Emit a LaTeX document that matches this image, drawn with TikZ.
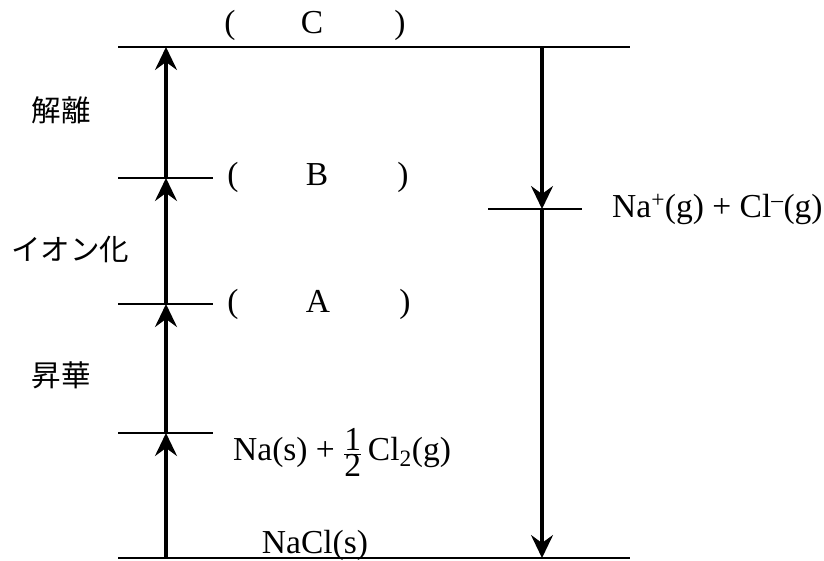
\documentclass[tikz,border=0pt]{standalone}
\usepackage{fontspec}
\setmainfont{Liberation Serif}
\newfontfamily\jpfont{Noto Sans CJK JP}
\usetikzlibrary{arrows.meta}
\tikzset{
  level/.style={line width=2.5pt},
  uparrow/.style={line width=3.2pt, -{Stealth[length=23pt,width=22pt,inset=8pt]}},
  lbl/.style={inner sep=0pt, anchor=base, font=\fontsize{33.5}{33.5}\selectfont},
  jp/.style={inner sep=0pt, font=\jpfont\fontsize{29.5}{29.5}\selectfont},
}
\begin{document}
\begin{tikzpicture}[x=1pt,y=-1pt]
\useasboundingbox (0,0) rectangle (824,560);
% level coordinates on the left axis
\coordinate (L0) at (166,558);
\coordinate (L1) at (166,433);
\coordinate (L2) at (166,304);
\coordinate (L3) at (166,178);
\coordinate (L4) at (166,47);
% right axis
\coordinate (R0) at (542,47);
\coordinate (R1) at (542,209);
\coordinate (R2) at (542,558);
% level lines
\draw[level] (118,47) -- (630,47);
\draw[level] (118,558) -- (630,558);
\draw[level] (118,178) -- (213,178);
\draw[level] (118,304) -- (213,304);
\draw[level] (118,433) -- (213,433);
\draw[level] (488,209) -- (582,209);
% arrows
\draw[uparrow] (L0) -- (L1);
\draw[uparrow] (L1) -- (L2);
\draw[uparrow] (L2) -- (L3);
\draw[uparrow] (L3) -- (L4);
\draw[uparrow] (R0) -- (R1);
\draw[uparrow] (R1) -- (R2);
% labels
\node[lbl] (c1) at (230,33) {(};
\node[lbl] (c2) at (312,33) {C};
\node[lbl] (c3) at (400,33) {)};
\node[lbl] (b1) at (233,185) {(};
\node[lbl] (b2) at (317,185) {B};
\node[lbl] (b3) at (403,185) {)};
\node[lbl] (a1) at (233,312) {(};
\node[lbl] (a2) at (318,312) {A};
\node[lbl] (a3) at (405,312) {)};
\node[lbl, anchor=base west] (nacl2) at (233,460) {Na(s) + $\frac{\mbox{1}}{\mbox{2}}$\,Cl\textsubscript{2}(g)};
\node[lbl] (nacl) at (315,553) {NaCl(s)};
\node[lbl, anchor=base west] (ions) at (612,217) {Na\textsuperscript{+}(g) + Cl\textsuperscript{\textendash}(g)};
\node[jp] (j1) at (61,110) {解離};
\node[jp] (j2) at (70,249) {イオン化};
\node[jp] (j3) at (61,375) {昇華};
\end{tikzpicture}
\end{document}
